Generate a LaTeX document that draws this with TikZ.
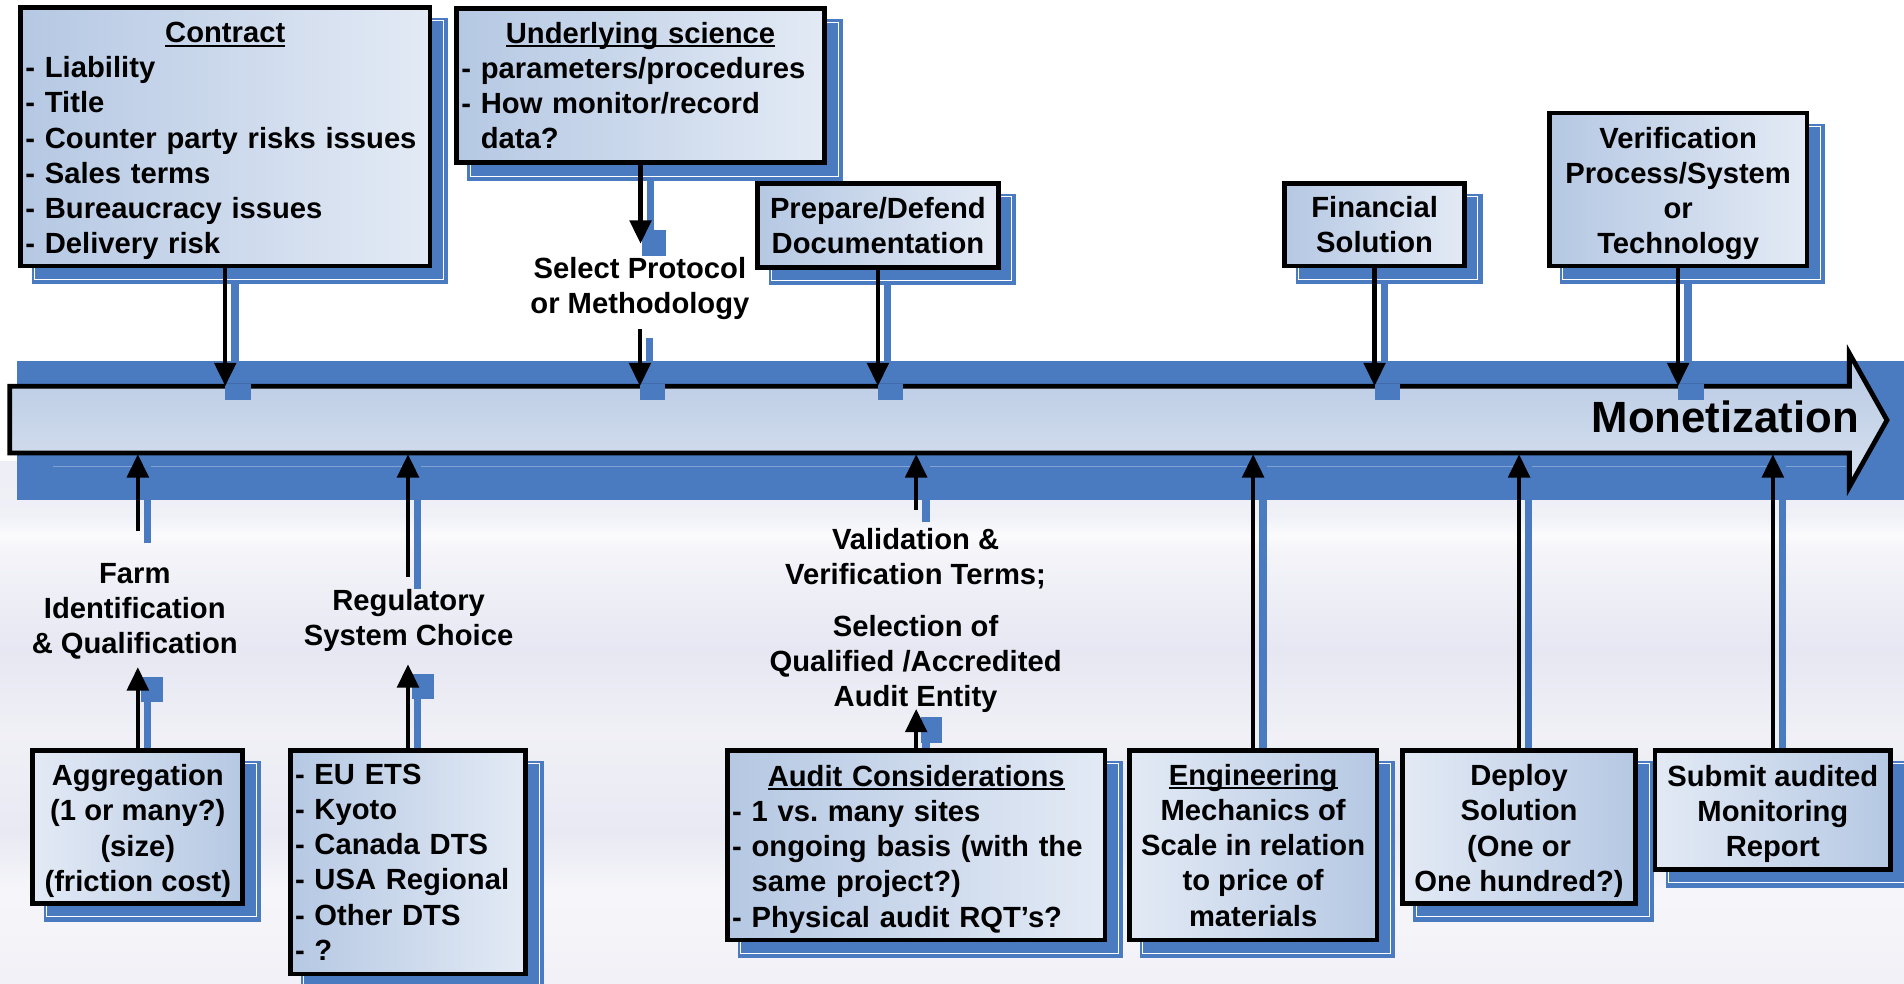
\documentclass[tikz,border=0pt]{standalone}
\usepackage{fontspec}
\setmainfont{Liberation Sans}
\usetikzlibrary{arrows.meta,calc,shadows}
\definecolor{shblue}{HTML}{4A7BC1}
\definecolor{boxdark}{HTML}{B5C8E3}
\definecolor{boxlight}{HTML}{E3EAF5}
\definecolor{arrtop}{HTML}{B7C9E3}
\definecolor{arrbot}{HTML}{D8E1EF}
\definecolor{bg0}{HTML}{F3F3F8}
\definecolor{bg1}{HTML}{F1F1F7}
\definecolor{bg2}{HTML}{F6F6FA}
\definecolor{bg3}{HTML}{E8E9F3}
\definecolor{bg4}{HTML}{F0F0F6}
\definecolor{bg5}{HTML}{E6E7F2}
\definecolor{bg6}{HTML}{F4F4F9}
\definecolor{bg7}{HTML}{FBFBFD}
\definecolor{bg8}{HTML}{F0F1F7}
\definecolor{bg9}{HTML}{ECEDF5}
\pgfdeclarelayer{back}
\pgfdeclarelayer{mid}
\pgfsetlayers{back,mid,main}
\pgfdeclareverticalshading{bgshade}{100bp}{color(0bp)=(bg0); color(25.6bp)=(bg1); color(33.7bp)=(bg2); color(39.5bp)=(bg3); color(48.8bp)=(bg4); color(57bp)=(bg5); color(66.3bp)=(bg6); color(67.9bp)=(bg7); color(69.8bp)=(bg8); color(76.7bp)=(bg9); color(90.7bp)=(bg0); color(97.7bp)=(white); color(100bp)=(white)}
\newcommand\myul[1]{\setbox0=\hbox{#1}\rlap{\rule[-2.4pt]{\wd0}{1.1pt}}\box0}
\newcommand\tsh{\rule{0pt}{17.1pt}}
\begin{document}
\begin{tikzpicture}[x=0.025cm, y=-0.025cm,
  txt/.style={font=\bfseries\fontsize{17.1pt}{20.63pt}\selectfont, align=center, inner sep=0pt},
  box/.style={draw=black, line width=2.8pt, inner xsep=0.1cm, inner ysep=0pt,
    font=\bfseries\fontsize{17.1pt}{20.63pt}\selectfont,
    general shadow={fill=shblue, draw=shblue, line width=0.15cm, shadow xshift=0.3cm, shadow yshift=-0.3cm},
    general shadow={draw=white, line width=0.4pt, shadow xshift=0.275cm, shadow yshift=-0.275cm}},
  tshift/.style={execute at begin node={\rule{0pt}{17.1pt}}},
  darkleft/.style={left color=boxdark, right color=boxlight},
  lightleft/.style={left color=boxlight, right color=boxdark},
  conn/.style={line width=2.6pt, -{Triangle[width=12.5pt,length=13.7pt]}},
  shl/.style={draw=shblue, line width=4.3pt},
  sq/.style={fill=shblue}]

\useasboundingbox (0,0) rectangle (1568,810);

\begin{pgfonlayer}{back}
  \fill[white] (0,0) rectangle (1568,810);
  \fill[shading=bgshade] (0,380) rectangle (1568,810);
  \fill[shblue] (14,297) rectangle (1568,412);
  \draw[white, opacity=0.3, line width=0.4pt] (44,384) -- (1520,384);
\end{pgfonlayer}

% main arrow
\draw[line width=2.8pt, line join=miter, top color=arrtop, bottom color=arrbot]
  (8,318) -- (1523,318) -- (1523,291) -- (1554,346) -- (1523,401) -- (1523,373) -- (8,373) -- cycle;
\node[anchor=east, font=\bfseries\fontsize{25.6pt}{30pt}\selectfont, inner sep=0pt] (monet) at (1531,343) {Monetization};
\coordinate (mtop) at (0,318);
\coordinate (mbot) at (0,374);

% top boxes
\node[box, tshift, darkleft, align=left, minimum width=8.425cm, minimum height=5.325cm, text width=8.225cm] (contract) at (185.5,112.5)
  {\makebox[\linewidth]{\myul{Contract}}\\- Liability\\- Title\\- Counter party risks issues\\- Sales terms\\- Bureaucracy issues\\- Delivery risk};
\node[box, darkleft, align=left, minimum width=7.575cm, minimum height=3.175cm, text width=7.375cm] (science) at (527.5,70.5)
  {\makebox[\linewidth]{\myul{Underlying science}}\\- parameters/procedures\\- How monitor/record\\\hphantom{-}\ data?};
\node[box, darkleft, align=center, minimum width=4.95cm, minimum height=1.725cm] (prepare) at (723,185.5)
  {Prepare/Defend\\Documentation};
\node[box, darkleft, align=center, minimum width=3.7cm, minimum height=1.7cm] (financial) at (1132,185)
  {Financial\\Solution};
\node[box, darkleft, align=center, minimum width=5.3cm, minimum height=3.15cm] (verification) at (1382,156)
  {\tsh Verification\\Process/System\\or\\Technology};

% bottom boxes
\node[box, lightleft, align=center, minimum width=4.325cm, minimum height=3.15cm] (aggregation) at (113.5,681)
  {\tsh Aggregation\\(1 or many?)\\(size)\\(friction cost)};
\node[box, darkleft, align=left, minimum width=4.85cm, minimum height=4.6cm, text width=4.65cm] (eu) at (336,710)
  {- EU ETS\\- Kyoto\\- Canada DTS\\- USA Regional\\- Other DTS\\- ?};
\node[box, tshift, darkleft, align=left, minimum width=7.775cm, minimum height=3.9cm, text width=7.575cm] (audit) at (754.5,696)
  {\makebox[\linewidth]{\myul{Audit Considerations}}\\- 1 vs.\ many sites\\- ongoing basis (with the\\\hphantom{-}\ same project?)\\- Physical audit RQT’s?};
\node[box, lightleft, align=center, minimum width=5.1cm, minimum height=3.9cm] (engineering) at (1032,696)
  {\myul{Engineering}\\Mechanics of\\Scale in relation\\to price of\\materials};
\node[box, lightleft, align=center, minimum width=4.8cm, minimum height=3.15cm] (deploy) at (1251,681)
  {\tsh Deploy\\Solution\\(One or\\One hundred?)};
\node[box, lightleft, align=center, minimum width=4.85cm, minimum height=2.45cm] (submit) at (1460,667)
  {\tsh Submit audited\\Monitoring\\Report};

% labels
\node[txt] (selectlbl) at (527,237.3) {Select Protocol\\or Methodology};
\node[txt] (farmlbl) at (111,503.5) {Farm\\Identification\\\& Qualification};
\node[txt] (reglbl) at (336.5,511) {Regulatory\\System Choice};
\node[txt] (vallbl) at (754,511) {Validation \&\\Verification Terms;\\[9.7pt]Selection of\\Qualified /Accredited\\Audit Entity};

% connector end points
\coordinate (selin) at ($(science.south |- selectlbl.north)+(0,-10.6)$);
\coordinate (selout) at ($(selectlbl.south)+(0,8)$);
\coordinate (farmout) at ($(aggregation.north |- farmlbl.north)+(0,-26)$);
\coordinate (farmin) at ($(aggregation.north |- farmlbl.south)+(0,6)$);
\coordinate (regout) at ($(eu.north |- reglbl.north)+(0,-10)$);
\coordinate (regin) at ($(eu.north |- reglbl.south)+(0,10)$);
\coordinate (valout) at ($(audit.north |- vallbl.north)+(0,-14.6)$);
\coordinate (valin) at ($(audit.north |- vallbl.south)+(0,-3.6)$);

% connector shadows
\begin{pgfonlayer}{mid}
  \draw[shl] ($(contract.south)+(8,10)$) -- ($(contract.south |- mtop)+(8,10)$);
  \draw[shl] ($(science.south)+(8,10)$) -- ($(selin)+(8,10)$);
  \draw[shl] ($(selout)+(8,7)$) -- ($(selout |- mtop)+(8,10)$);
  \draw[shl] ($(prepare.south)+(8,10)$) -- ($(prepare.south |- mtop)+(8,10)$);
  \draw[shl] ($(financial.south)+(8,10)$) -- ($(financial.south |- mtop)+(8,10)$);
  \draw[shl] ($(verification.south)+(8,10)$) -- ($(verification.south |- mtop)+(8,10)$);
  \draw[shl] ($(farmout)+(8,10)$) -- ($(farmout |- mbot)+(8,10)$);
  \draw[shl] ($(aggregation.north)+(8,10)$) -- ($(farmin)+(8,10)$);
  \draw[shl] ($(regout)+(8,10)$) -- ($(regout |- mbot)+(8,10)$);
  \draw[shl] ($(eu.north)+(8,10)$) -- ($(regin)+(8,10)$);
  \draw[shl] ($(valout)+(8,10)$) -- ($(valout |- mbot)+(8,10)$);
  \draw[shl] ($(audit.north)+(8,10)$) -- ($(valin)+(8,10)$);
  \draw[shl] ($(engineering.north)+(8,10)$) -- ($(engineering.north |- mbot)+(8,10)$);
  \draw[shl] ($(deploy.north)+(8,10)$) -- ($(deploy.north |- mbot)+(8,10)$);
  \draw[shl] ($(submit.north)+(8,10)$) -- ($(submit.north |- mbot)+(8,10)$);
\end{pgfonlayer}

% arrowhead shadows
\fill[sq] ($(contract.south |- mtop)+(0,-2)$) rectangle ($(contract.south |- mtop)+(21,11)$);
\fill[sq] ($(selout |- mtop)+(0,-2)$) rectangle ($(selout |- mtop)+(21,11)$);
\fill[sq] ($(prepare.south |- mtop)+(0,-2)$) rectangle ($(prepare.south |- mtop)+(21,11)$);
\fill[sq] ($(financial.south |- mtop)+(0,-2)$) rectangle ($(financial.south |- mtop)+(21,11)$);
\fill[sq] ($(verification.south |- mtop)+(0,-2)$) rectangle ($(verification.south |- mtop)+(21,11)$);
\fill[sq] ($(selin)+(1,-11)$) rectangle ($(selin)+(21,10)$);
\fill[sq] ($(farmin)+(3,8)$) rectangle ($(farmin)+(21,29)$);
\fill[sq] ($(regin)+(3,8)$) rectangle ($(regin)+(21,29)$);
\fill[sq] ($(valin)+(4,7)$) rectangle ($(valin)+(21,28)$);

% connectors
\draw[conn] (contract.south) -- (contract.south |- mtop);
\draw[conn] (science.south) -- (selin);
\draw[conn] (selout) -- (selout |- mtop);
\draw[conn] (prepare.south) -- (prepare.south |- mtop);
\draw[conn] (financial.south) -- (financial.south |- mtop);
\draw[conn] (verification.south) -- (verification.south |- mtop);
\draw[conn] (farmout) -- (farmout |- mbot);
\draw[conn] (aggregation.north) -- (farmin);
\draw[conn] (regout) -- (regout |- mbot);
\draw[conn] (eu.north) -- (regin);
\draw[conn] (valout) -- (valout |- mbot);
\draw[conn] (audit.north) -- (valin);
\draw[conn] (engineering.north) -- (engineering.north |- mbot);
\draw[conn] (deploy.north) -- (deploy.north |- mbot);
\draw[conn] (submit.north) -- (submit.north |- mbot);
\end{tikzpicture}
\end{document}
